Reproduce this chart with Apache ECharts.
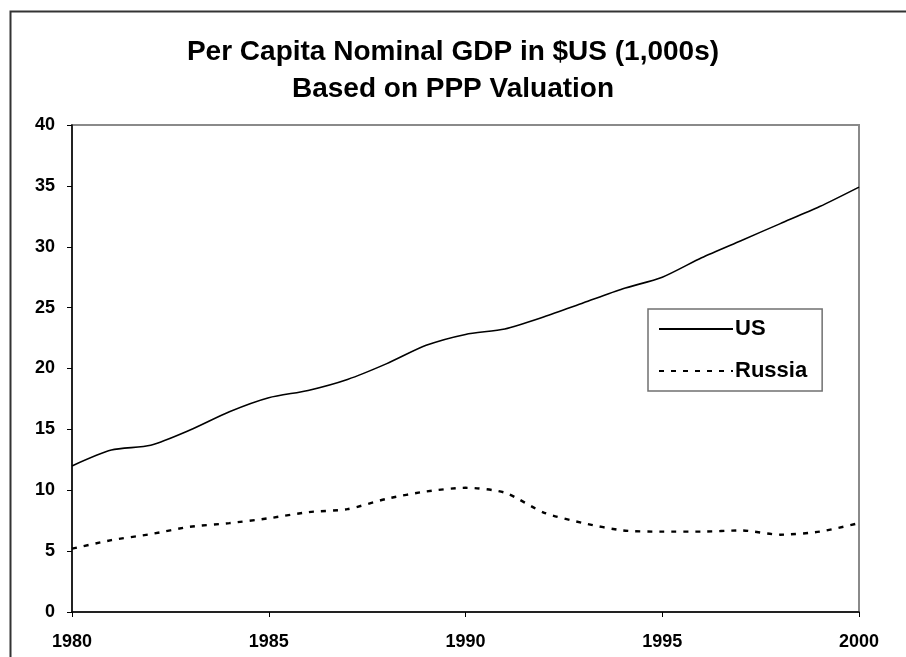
<!DOCTYPE html>
<html>
<head>
<meta charset="utf-8">
<script src="https://cdn.jsdelivr.net/npm/echarts@6/dist/echarts.min.js"></script>
<style>
html,body{margin:0;padding:0;background:#fff;}
#chart{width:906px;height:657px;}
</style>
</head>
<body>
<div id="chart"></div>
<script>
const years = [1980,1981,1982,1983,1984,1985,1986,1987,1988,1989,1990,1991,1992,1993,1994,1995,1996,1997,1998,1999,2000];
const usValues = [12.0,13.3,13.7,14.95,16.45,17.6,18.2,19.1,20.4,21.9,22.8,23.25,24.25,25.4,26.55,27.5,29.1,30.5,31.9,33.3,34.9];
const russiaValues = [5.2,5.9,6.4,7.0,7.3,7.7,8.2,8.45,9.3,9.9,10.2,9.8,8.15,7.3,6.7,6.6,6.6,6.7,6.35,6.6,7.3];
const seriesNames = ['US','Russia'];
const titleLines = ['Per Capita Nominal GDP in $US (1,000s)','Based on PPP Valuation'];

const FONT = '"Liberation Sans", Arial, sans-serif';
const chart = echarts.init(document.getElementById('chart'), null, {renderer:'canvas'});
const pair = (xs, ys) => xs.map((x,i)=>[x, ys[i]]);

chart.setOption({
  animation:false,
  backgroundColor:'#ffffff',
  title:{
    text: titleLines.join('\n'),
    left:'center',
    top:29,
    textStyle:{fontFamily:FONT,fontSize:28,fontWeight:'bold',color:'#000',lineHeight:37}
  },
  graphic:[{
    type:'rect', left:8, top:9, z:-1,
    shape:{width:1000,height:1000},
    style:{fill:'none',stroke:'#333',lineWidth:2}
  }],
  grid:{left:72,top:125,width:787,height:487,show:true,borderColor:'#8a8a8a',borderWidth:2,backgroundColor:'transparent'},
  legend:{
    orient:'vertical',
    left:648, top:309,
    padding:[9,15,9,10],
    itemGap:20,
    itemWidth:74, itemHeight:20,
    backgroundColor:'#fff',
    borderColor:'#707070', borderWidth:1.5,
    itemStyle:{color:'rgba(0,0,0,0)',borderColor:'rgba(0,0,0,0)',borderWidth:0},
    textStyle:{fontFamily:FONT,fontSize:22,fontWeight:'bold',color:'#000',padding:[0,0,0,-3]},
    data:seriesNames
  },
  xAxis:{
    type:'value', min:1980, max:2000, interval:5,
    axisLine:{onZero:false,lineStyle:{color:'#000',width:1.5}},
    axisTick:{show:true,length:5,inside:false,lineStyle:{color:'#000'}},
    splitLine:{show:false},
    axisLabel:{fontFamily:FONT,fontSize:18,fontWeight:'bold',color:'#000',margin:21,formatter:v=>String(v)}
  },
  yAxis:{
    type:'value', min:0, max:40, interval:5,
    axisLine:{show:true,lineStyle:{color:'#000',width:1.5}},
    axisTick:{show:true,length:5,inside:false,lineStyle:{color:'#000'}},
    splitLine:{show:false},
    axisLabel:{fontFamily:FONT,fontSize:18,fontWeight:'bold',color:'#000',margin:17}
  },
  series:[
    {name:seriesNames[0],type:'line',data:pair(years,usValues),symbol:'none',smooth:0.25,
     lineStyle:{color:'#000',width:1.6,type:'solid'},itemStyle:{color:'#000'}},
    {name:seriesNames[1],type:'line',data:pair(years,russiaValues),symbol:'none',smooth:0.25,
     lineStyle:{color:'#000',width:2.4,type:[5,7]},itemStyle:{color:'#000'}}
  ]
});
</script>
</body>
</html>
